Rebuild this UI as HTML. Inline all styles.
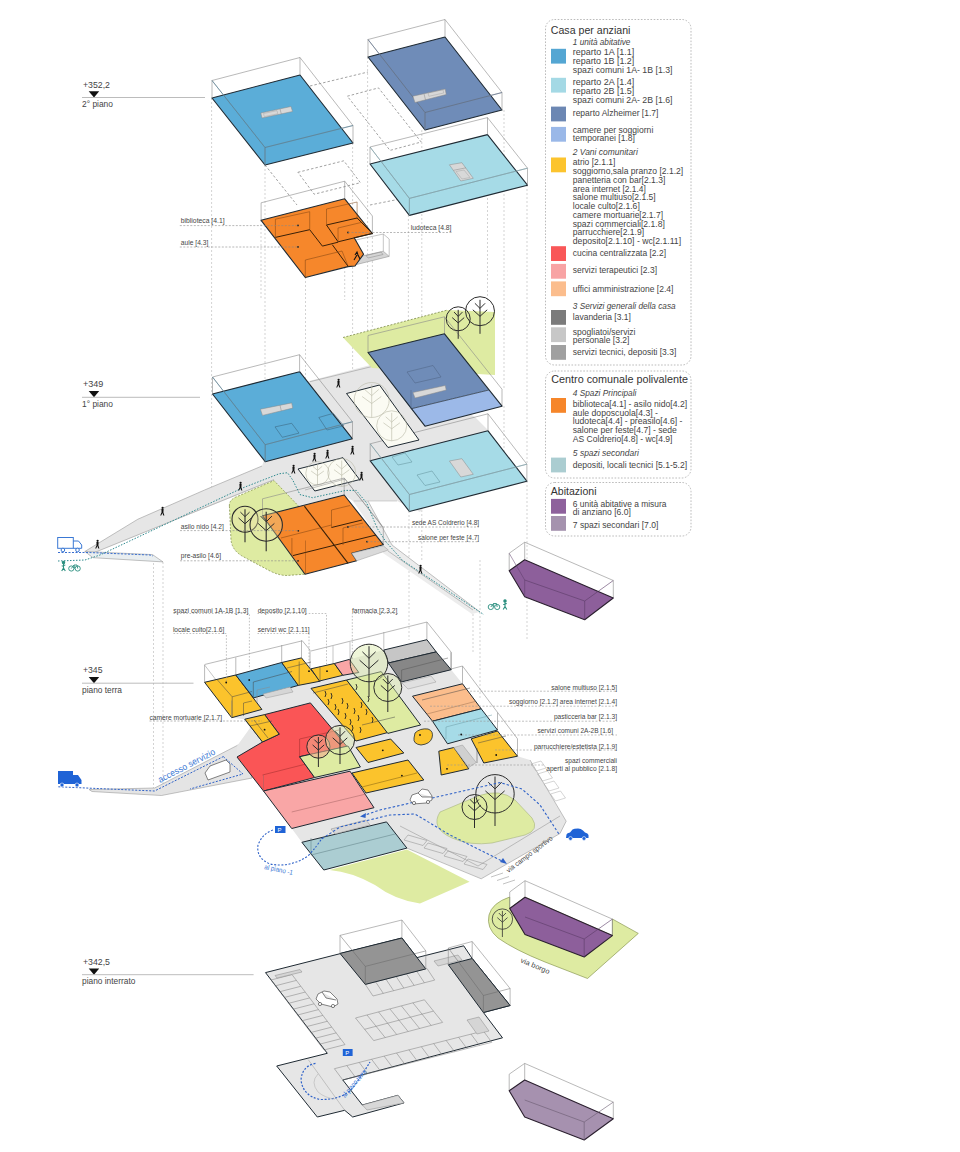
<!DOCTYPE html>
<html><head><meta charset="utf-8"><style>
html,body{margin:0;padding:0;background:#fff;}
svg{display:block;font-family:"Liberation Sans",sans-serif;}
</style></head><body>
<svg width="960" height="1152" viewBox="0 0 960 1152">
<rect width="960" height="1152" fill="#fff"/>
<polyline points="211.6,98.0 211.6,394.0" fill="none" stroke="#b5b5b5" stroke-width="0.6" stroke-dasharray="2,2" />
<polyline points="265.0,165.0 265.0,444.0" fill="none" stroke="#b5b5b5" stroke-width="0.6" stroke-dasharray="2,2" />
<polyline points="305.5,277.0 305.5,495.0" fill="none" stroke="#b5b5b5" stroke-width="0.6" stroke-dasharray="2,2" />
<polyline points="352.6,143.0 352.6,421.0" fill="none" stroke="#b5b5b5" stroke-width="0.6" stroke-dasharray="2,2" />
<polyline points="367.6,57.0 367.6,336.0" fill="none" stroke="#b5b5b5" stroke-width="0.6" stroke-dasharray="2,2" />
<polyline points="408.4,215.0 408.4,494.0" fill="none" stroke="#b5b5b5" stroke-width="0.6" stroke-dasharray="2,2" />
<polyline points="421.8,130.0 421.8,316.0" fill="none" stroke="#b5b5b5" stroke-width="0.6" stroke-dasharray="2,2" />
<polyline points="504.0,110.0 504.0,389.0" fill="none" stroke="#b5b5b5" stroke-width="0.6" stroke-dasharray="2,2" />
<polyline points="527.0,185.0 527.0,464.0" fill="none" stroke="#b5b5b5" stroke-width="0.6" stroke-dasharray="2,2" />
<polyline points="261.0,220.0 261.0,298.0" fill="none" stroke="#b5b5b5" stroke-width="0.6" stroke-dasharray="2,2" />
<polyline points="344.7,199.0 344.7,300.0" fill="none" stroke="#b5b5b5" stroke-width="0.6" stroke-dasharray="2,2" />
<polyline points="372.4,233.0 372.4,380.0" fill="none" stroke="#b5b5b5" stroke-width="0.6" stroke-dasharray="2,2" />
<polyline points="487.5,134.0 487.5,300.0" fill="none" stroke="#b5b5b5" stroke-width="0.6" stroke-dasharray="2,2" />
<polyline points="153.5,555.0 153.5,790.0" fill="none" stroke="#b5b5b5" stroke-width="0.6" stroke-dasharray="2,2" />
<polyline points="163.0,562.0 163.0,790.0" fill="none" stroke="#b5b5b5" stroke-width="0.6" stroke-dasharray="2,2" />
<polyline points="211.6,394.0 211.6,500.0" fill="none" stroke="#b5b5b5" stroke-width="0.6" stroke-dasharray="2,2" />
<polyline points="409.0,511.0 409.0,640.0" fill="none" stroke="#b5b5b5" stroke-width="0.6" stroke-dasharray="2,2" />
<polyline points="473.0,610.0 473.0,652.0" fill="none" stroke="#b5b5b5" stroke-width="0.6" stroke-dasharray="2,2" />
<polyline points="480.0,560.0 480.0,700.0" fill="none" stroke="#b5b5b5" stroke-width="0.6" stroke-dasharray="2,2" />
<polyline points="527.0,481.0 527.0,640.0" fill="none" stroke="#b5b5b5" stroke-width="0.6" stroke-dasharray="2,2" />
<polyline points="421.8,426.0 421.8,560.0" fill="none" stroke="#b5b5b5" stroke-width="0.6" stroke-dasharray="2,2" />
<polyline points="504.0,406.0 504.0,470.0" fill="none" stroke="#b5b5b5" stroke-width="0.6" stroke-dasharray="2,2" />
<text x="83.0" y="88.0" font-size="8.5" fill="#444" text-anchor="start" textLength="27.0" lengthAdjust="spacingAndGlyphs">+352,2</text>
<polygon points="88.7,91.2 99.2,91.2 94.0,97.5" fill="#111" stroke="none" stroke-width="1" stroke-linejoin="round" />
<polyline points="82.0,97.5 205.0,97.5" fill="none" stroke="#ababab" stroke-width="0.8" />
<text x="82.0" y="107.2" font-size="8.5" fill="#444" text-anchor="start" textLength="31.0" lengthAdjust="spacingAndGlyphs">2° piano</text>
<text x="83.0" y="386.7" font-size="8.5" fill="#444" text-anchor="start" textLength="20.4" lengthAdjust="spacingAndGlyphs">+349</text>
<polygon points="88.7,391.0 99.2,391.0 94.0,397.3" fill="#111" stroke="none" stroke-width="1" stroke-linejoin="round" />
<polyline points="82.0,397.3 200.0,397.3" fill="none" stroke="#ababab" stroke-width="0.8" />
<text x="82.0" y="406.7" font-size="8.5" fill="#444" text-anchor="start" textLength="31.0" lengthAdjust="spacingAndGlyphs">1° piano</text>
<text x="83.0" y="673.2" font-size="8.5" fill="#444" text-anchor="start" textLength="19.5" lengthAdjust="spacingAndGlyphs">+345</text>
<polygon points="88.7,676.9 99.2,676.9 94.0,683.2" fill="#111" stroke="none" stroke-width="1" stroke-linejoin="round" />
<polyline points="82.0,683.2 193.5,683.2" fill="none" stroke="#ababab" stroke-width="0.8" />
<text x="82.0" y="693.1" font-size="8.5" fill="#444" text-anchor="start" textLength="40.0" lengthAdjust="spacingAndGlyphs">piano terra</text>
<text x="83.0" y="964.6" font-size="8.5" fill="#444" text-anchor="start" textLength="27.0" lengthAdjust="spacingAndGlyphs">+342,5</text>
<polygon points="88.7,968.4 99.2,968.4 94.0,974.7" fill="#111" stroke="none" stroke-width="1" stroke-linejoin="round" />
<polyline points="82.0,974.7 253.6,974.7" fill="none" stroke="#ababab" stroke-width="0.8" />
<text x="82.0" y="983.9" font-size="8.5" fill="#444" text-anchor="start" textLength="53.4" lengthAdjust="spacingAndGlyphs">piano interrato</text>
<polyline points="297.9,172.3 343.8,160.8 360.4,182.7 314.2,194.2 297.9,172.3" fill="none" stroke="#8a8a8a" stroke-width="0.8" stroke-dasharray="2.5,2" />
<polyline points="347.3,96.2 378.5,87.9 421.2,142.0 390.0,150.4 347.3,96.2" fill="none" stroke="#8a8a8a" stroke-width="0.8" stroke-dasharray="2.5,2" />
<polyline points="310.0,86.0 368.0,72.0" fill="none" stroke="#8a8a8a" stroke-width="0.8" stroke-dasharray="2.5,2" />
<polyline points="265.0,165.0 297.0,205.0" fill="none" stroke="#8a8a8a" stroke-width="0.8" stroke-dasharray="2.5,2" />
<polyline points="370.0,205.0 420.0,195.0" fill="none" stroke="#8a8a8a" stroke-width="0.8" stroke-dasharray="2.5,2" />
<polygon points="212.0,98.0 300.0,75.0 353.0,143.0 265.0,165.0" fill="#5badd8" stroke="#1f2a33" stroke-width="1.1" stroke-linejoin="round" />
<polyline points="212.0,80.5 300.0,57.5 353.0,125.5 265.0,147.5 212.0,80.5" fill="none" stroke="#8a8a8a" stroke-width="0.6" />
<polyline points="212.0,98.0 212.0,80.5" fill="none" stroke="#8a8a8a" stroke-width="0.6" />
<polyline points="300.0,75.0 300.0,57.5" fill="none" stroke="#8a8a8a" stroke-width="0.6" />
<polyline points="353.0,143.0 353.0,125.5" fill="none" stroke="#8a8a8a" stroke-width="0.6" />
<polyline points="265.0,165.0 265.0,147.5" fill="none" stroke="#8a8a8a" stroke-width="0.6" />
<polyline points="212.0,80.5 265.0,147.5 353.0,125.5" fill="none" stroke="#4a7e99" stroke-width="0.6" />
<polyline points="265.0,147.5 265.0,165.0" fill="none" stroke="#4a7e99" stroke-width="0.6" />
<polygon points="260.8,113.0 291.0,106.5 292.5,111.5 262.0,118.0" fill="#d8d8d8" stroke="#888" stroke-width="0.5" stroke-linejoin="round" />
<polyline points="280.0,109.0 281.3,114.0" fill="none" stroke="#888" stroke-width="0.5" />
<polygon points="263.5,113.5 277.0,110.6 277.8,113.8 264.3,116.6" fill="none" stroke="#999" stroke-width="0.4" stroke-linejoin="round" />
<polygon points="368.0,57.0 445.0,37.0 502.0,110.0 425.0,130.0" fill="#6f8cb8" stroke="#1f2a33" stroke-width="1.1" stroke-linejoin="round" />
<polyline points="368.0,39.5 445.0,19.5 502.0,92.5 425.0,112.5 368.0,39.5" fill="none" stroke="#8a8a8a" stroke-width="0.6" />
<polyline points="368.0,57.0 368.0,39.5" fill="none" stroke="#8a8a8a" stroke-width="0.6" />
<polyline points="445.0,37.0 445.0,19.5" fill="none" stroke="#8a8a8a" stroke-width="0.6" />
<polyline points="502.0,110.0 502.0,92.5" fill="none" stroke="#8a8a8a" stroke-width="0.6" />
<polyline points="425.0,130.0 425.0,112.5" fill="none" stroke="#8a8a8a" stroke-width="0.6" />
<polyline points="368.0,39.5 425.0,112.5 502.0,92.5" fill="none" stroke="#52688a" stroke-width="0.6" />
<polyline points="425.0,112.5 425.0,130.0" fill="none" stroke="#52688a" stroke-width="0.6" />
<polygon points="412.9,96.2 445.2,89.0 446.2,94.5 415.0,102.5" fill="#d8d8d8" stroke="#888" stroke-width="0.5" stroke-linejoin="round" />
<polyline points="424.0,93.8 425.5,99.8" fill="none" stroke="#888" stroke-width="0.5" />
<polygon points="428.0,93.0 443.0,89.8 443.8,93.0 428.8,96.3" fill="none" stroke="#999" stroke-width="0.4" stroke-linejoin="round" />
<polygon points="370.0,164.0 487.5,134.6 527.5,185.2 409.4,215.4" fill="#a6dbe7" stroke="#1f2a33" stroke-width="1.1" stroke-linejoin="round" />
<polyline points="370.0,147.0 487.5,117.6 527.5,168.2 409.4,198.4 370.0,147.0" fill="none" stroke="#8a8a8a" stroke-width="0.6" />
<polyline points="370.0,164.0 370.0,147.0" fill="none" stroke="#8a8a8a" stroke-width="0.6" />
<polyline points="487.5,134.6 487.5,117.6" fill="none" stroke="#8a8a8a" stroke-width="0.6" />
<polyline points="527.5,185.2 527.5,168.2" fill="none" stroke="#8a8a8a" stroke-width="0.6" />
<polyline points="409.4,215.4 409.4,198.4" fill="none" stroke="#8a8a8a" stroke-width="0.6" />
<polyline points="370.0,147.0 409.4,198.4 527.5,168.2" fill="none" stroke="#7aa8b3" stroke-width="0.6" />
<polyline points="409.4,198.4 409.4,215.4" fill="none" stroke="#7aa8b3" stroke-width="0.6" />
<polygon points="449.4,164.8 461.9,162.7 473.3,178.3 460.8,181.0" fill="#d8d8d8" stroke="#888" stroke-width="0.5" stroke-linejoin="round" />
<polyline points="453.5,170.3 466.0,167.8" fill="none" stroke="#888" stroke-width="0.5" />
<polygon points="456.0,171.5 464.0,170.0 470.0,177.5 462.0,179.0" fill="none" stroke="#999" stroke-width="0.4" stroke-linejoin="round" />
<polyline points="261.1,220.3 261.1,202.8" fill="none" stroke="#8a8a8a" stroke-width="0.6" />
<polyline points="344.7,198.8 344.7,181.2" fill="none" stroke="#8a8a8a" stroke-width="0.6" />
<polyline points="372.4,233.5 372.4,216.0" fill="none" stroke="#8a8a8a" stroke-width="0.6" />
<polyline points="261.1,202.8 344.7,181.2 372.4,216.0" fill="none" stroke="#8a8a8a" stroke-width="0.6" />
<polygon points="351.2,258.5 383.3,251.2 389.2,256.4 357.1,264.4" fill="#d5d5d5" stroke="#888" stroke-width="0.5" stroke-linejoin="round" />
<polygon points="366.0,255.5 381.0,252.0 383.0,254.5 368.0,258.0" fill="none" stroke="#888" stroke-width="0.5" stroke-linejoin="round" />
<polyline points="383.3,251.2 383.3,234.0 389.2,239.0 389.2,256.4" fill="none" stroke="#8a8a8a" stroke-width="0.5" />
<polyline points="351.2,258.5 351.2,241.0 383.3,234.0" fill="none" stroke="#8a8a8a" stroke-width="0.5" />
<polygon points="261.1,220.3 344.7,198.8 372.4,233.5 354.2,237.8 363.6,254.2 355.0,266.0 348.0,266.6 305.3,277.5" fill="#f6872b" stroke="#1f2a33" stroke-width="1.1" stroke-linejoin="round" />
<polyline points="275.4,237.4 309.7,229.7 322.4,246.1 338.1,242.2" fill="none" stroke="#3a2008" stroke-width="1.0" />
<polyline points="332.3,244.7 348.3,266.6" fill="none" stroke="#3a2008" stroke-width="1.0" />
<polyline points="326.5,225.0 357.1,218.0 372.4,233.5 338.1,241.8 326.5,225.0" fill="none" stroke="#3a2008" stroke-width="1.0" />
<polyline points="275.4,219.2 275.4,237.4" fill="none" stroke="#7a4010" stroke-width="0.5" />
<polyline points="275.4,219.2 309.7,211.7 309.7,229.7" fill="none" stroke="#7a4010" stroke-width="0.5" />
<polyline points="326.5,209.0 357.1,202.0 357.1,218.0" fill="none" stroke="#7a4010" stroke-width="0.5" />
<polyline points="326.5,209.0 326.5,225.0" fill="none" stroke="#7a4010" stroke-width="0.5" />
<polyline points="305.3,260.0 305.3,277.5" fill="none" stroke="#7a4010" stroke-width="0.5" />
<polyline points="305.3,260.0 342.0,251.0 348.3,266.6" fill="none" stroke="#7a4010" stroke-width="0.5" />
<polyline points="338.0,228.0 338.1,241.8" fill="none" stroke="#7a4010" stroke-width="0.5" />
<polyline points="338.0,228.0 361.0,222.5" fill="none" stroke="#7a4010" stroke-width="0.5" />
<path d="M355,255 L357,252 L358,255 L360,259 M357,255 L354,260" fill="none" stroke="#111" stroke-width="1.1"/>
<circle cx="298.0" cy="225.4" r="0.9" fill="#222" stroke="none" stroke-width="0"/>
<circle cx="298.0" cy="246.9" r="0.9" fill="#222" stroke="none" stroke-width="0"/>
<circle cx="348.0" cy="232.5" r="0.9" fill="#222" stroke="none" stroke-width="0"/>
<text x="180.8" y="222.8" font-size="7" fill="#444" text-anchor="start" textLength="43.8" lengthAdjust="spacingAndGlyphs">biblioteca [4.1]</text>
<polyline points="179.8,225.6 298.0,225.6" fill="none" stroke="#888" stroke-width="0.6" stroke-dasharray="2,1.5" />
<text x="180.8" y="244.7" font-size="7" fill="#444" text-anchor="start" textLength="27.5" lengthAdjust="spacingAndGlyphs">aule [4.3]</text>
<polyline points="179.8,247.0 298.0,247.0" fill="none" stroke="#888" stroke-width="0.6" stroke-dasharray="2,1.5" />
<text x="410.8" y="230.4" font-size="7" fill="#444" text-anchor="start" textLength="40.7" lengthAdjust="spacingAndGlyphs">ludoteca [4.8]</text>
<polyline points="348.0,232.5 451.5,232.5" fill="none" stroke="#888" stroke-width="0.6" stroke-dasharray="2,1.5" />
<rect x="545.5" y="19.5" width="145.5" height="345.5" rx="9" ry="9" fill="none" stroke="#aaa" stroke-width="0.8" stroke-dasharray="1.6,1.6"/>
<rect x="545.5" y="371" width="145.5" height="107" rx="9" ry="9" fill="none" stroke="#aaa" stroke-width="0.8" stroke-dasharray="1.6,1.6"/>
<rect x="545.5" y="482.5" width="145.5" height="53.5" rx="9" ry="9" fill="none" stroke="#aaa" stroke-width="0.8" stroke-dasharray="1.6,1.6"/>
<text x="550.8" y="33.6" font-size="11.5" fill="#333" text-anchor="start" textLength="79.6" lengthAdjust="spacingAndGlyphs">Casa per anziani</text>
<text x="572.8" y="45.0" font-size="9" fill="#444" text-anchor="start" font-style="italic" textLength="57.6" lengthAdjust="spacingAndGlyphs">1 unità abitative</text>
<rect x="551" y="48.8" width="15" height="14.8" fill="#54a6d3"/>
<text x="572.8" y="55.2" font-size="9" fill="#444" text-anchor="start" textLength="61.5" lengthAdjust="spacingAndGlyphs">reparto 1A  [1.1]</text>
<text x="572.8" y="64.2" font-size="9" fill="#444" text-anchor="start" textLength="61.5" lengthAdjust="spacingAndGlyphs">reparto 1B  [1.2]</text>
<text x="572.8" y="72.5" font-size="9" fill="#444" text-anchor="start" textLength="99.7" lengthAdjust="spacingAndGlyphs">spazi comuni 1A- 1B  [1.3]</text>
<rect x="551" y="77.8" width="15" height="14.8" fill="#a4d9e5"/>
<text x="572.8" y="85.4" font-size="9" fill="#444" text-anchor="start" textLength="61.5" lengthAdjust="spacingAndGlyphs">reparto 2A  [1.4]</text>
<text x="572.8" y="94.0" font-size="9" fill="#444" text-anchor="start" textLength="61.5" lengthAdjust="spacingAndGlyphs">reparto 2B  [1.5]</text>
<text x="572.8" y="102.6" font-size="9" fill="#444" text-anchor="start" textLength="99.7" lengthAdjust="spacingAndGlyphs">spazi comuni 2A- 2B  [1.6]</text>
<rect x="551" y="106.6" width="15" height="14.8" fill="#6c87b3"/>
<text x="572.8" y="116.2" font-size="9" fill="#444" text-anchor="start" textLength="85.6" lengthAdjust="spacingAndGlyphs">reparto Alzheimer [1.7]</text>
<rect x="551" y="126.9" width="15" height="14.8" fill="#9ab8e8"/>
<text x="572.8" y="132.7" font-size="9" fill="#444" text-anchor="start" textLength="80.5" lengthAdjust="spacingAndGlyphs">camere per soggiorni</text>
<text x="572.8" y="141.2" font-size="9" fill="#444" text-anchor="start" textLength="62.2" lengthAdjust="spacingAndGlyphs">temporanei [1.8]</text>
<text x="572.8" y="154.5" font-size="9" fill="#444" text-anchor="start" font-style="italic" textLength="65.0" lengthAdjust="spacingAndGlyphs">2 Vani comunitari</text>
<rect x="551" y="157.5" width="15" height="14.8" fill="#fcc42e"/>
<text x="572.8" y="165.2" font-size="9" fill="#444" text-anchor="start" textLength="42.6" lengthAdjust="spacingAndGlyphs">atrio [2.1.1]</text>
<text x="572.8" y="174.2" font-size="9" fill="#444" text-anchor="start" textLength="110.4" lengthAdjust="spacingAndGlyphs">soggiorno,sala pranzo [2.1.2]</text>
<text x="572.8" y="183.2" font-size="9" fill="#444" text-anchor="start" textLength="92.5" lengthAdjust="spacingAndGlyphs">panetteria con bar[2.1.3]</text>
<text x="572.8" y="191.7" font-size="9" fill="#444" text-anchor="start" textLength="73.1" lengthAdjust="spacingAndGlyphs">area internet [2.1.4]</text>
<text x="572.8" y="200.4" font-size="9" fill="#444" text-anchor="start" textLength="82.9" lengthAdjust="spacingAndGlyphs">salone multiuso[2.1.5]</text>
<text x="572.8" y="209.0" font-size="9" fill="#444" text-anchor="start" textLength="67.0" lengthAdjust="spacingAndGlyphs">locale culto[2.1.6]</text>
<text x="572.8" y="218.1" font-size="9" fill="#444" text-anchor="start" textLength="90.2" lengthAdjust="spacingAndGlyphs">camere mortuarie[2.1.7]</text>
<text x="572.8" y="226.5" font-size="9" fill="#444" text-anchor="start" textLength="92.0" lengthAdjust="spacingAndGlyphs">spazi commerciali[2.1.8]</text>
<text x="572.8" y="235.1" font-size="9" fill="#444" text-anchor="start" textLength="71.3" lengthAdjust="spacingAndGlyphs">parrucchiere[2.1.9]</text>
<text x="572.8" y="243.7" font-size="9" fill="#444" text-anchor="start" textLength="108.3" lengthAdjust="spacingAndGlyphs">deposito[2.1.10] - wc[2.1.11]</text>
<rect x="551" y="246.2" width="15" height="14.8" fill="#f95758"/>
<text x="572.8" y="256.2" font-size="9" fill="#444" text-anchor="start" textLength="93.2" lengthAdjust="spacingAndGlyphs">cucina centralizzata [2.2]</text>
<rect x="551" y="263.9" width="15" height="14.8" fill="#f8a3a4"/>
<text x="572.8" y="272.9" font-size="9" fill="#444" text-anchor="start" textLength="84.2" lengthAdjust="spacingAndGlyphs">servizi terapeutici [2.3]</text>
<rect x="551" y="281.4" width="15" height="14.8" fill="#fbbd8d"/>
<text x="572.8" y="291.5" font-size="9" fill="#444" text-anchor="start" textLength="100.6" lengthAdjust="spacingAndGlyphs">uffici amministrazione [2.4]</text>
<text x="572.8" y="308.7" font-size="9" fill="#444" text-anchor="start" font-style="italic" textLength="102.8" lengthAdjust="spacingAndGlyphs">3 Servizi generali della casa</text>
<rect x="551" y="310" width="15" height="14.8" fill="#7b7b7b"/>
<text x="572.8" y="320.2" font-size="9" fill="#444" text-anchor="start" textLength="58.1" lengthAdjust="spacingAndGlyphs">lavanderia [3.1]</text>
<rect x="551" y="327.3" width="15" height="14.8" fill="#c7c7c7"/>
<text x="572.8" y="334.5" font-size="9" fill="#444" text-anchor="start" textLength="62.7" lengthAdjust="spacingAndGlyphs">spogliatoi/servizi</text>
<text x="572.8" y="343.0" font-size="9" fill="#444" text-anchor="start" textLength="56.7" lengthAdjust="spacingAndGlyphs">personale [3.2]</text>
<rect x="551" y="345" width="15" height="14.8" fill="#a0a0a0"/>
<text x="572.8" y="354.6" font-size="9" fill="#444" text-anchor="start" textLength="103.5" lengthAdjust="spacingAndGlyphs">servizi tecnici, depositi [3.3]</text>
<text x="551.3" y="382.6" font-size="11.5" fill="#333" text-anchor="start" textLength="136.7" lengthAdjust="spacingAndGlyphs">Centro comunale polivalente</text>
<text x="572.8" y="395.9" font-size="9" fill="#444" text-anchor="start" font-style="italic" textLength="63.6" lengthAdjust="spacingAndGlyphs">4 Spazi Principali</text>
<rect x="551" y="398" width="15" height="14.8" fill="#f6862a"/>
<text x="572.8" y="407.0" font-size="9" fill="#444" text-anchor="start" textLength="114.3" lengthAdjust="spacingAndGlyphs">biblioteca[4.1] - asilo nido[4.2]</text>
<text x="572.8" y="415.6" font-size="9" fill="#444" text-anchor="start" textLength="85.1" lengthAdjust="spacingAndGlyphs">aule doposcuola[4.3] -</text>
<text x="572.8" y="424.2" font-size="9" fill="#444" text-anchor="start" textLength="109.7" lengthAdjust="spacingAndGlyphs">ludoteca[4.4] - preasilo[4.6] -</text>
<text x="572.8" y="432.8" font-size="9" fill="#444" text-anchor="start" textLength="104.0" lengthAdjust="spacingAndGlyphs">salone per feste[4.7] - sede</text>
<text x="572.8" y="441.8" font-size="9" fill="#444" text-anchor="start" textLength="99.7" lengthAdjust="spacingAndGlyphs">AS Coldrerio[4.8] - wc[4.9]</text>
<text x="572.8" y="456.0" font-size="9" fill="#444" text-anchor="start" font-style="italic" textLength="66.2" lengthAdjust="spacingAndGlyphs">5 spazi secondari</text>
<rect x="551" y="457.6" width="15" height="14.8" fill="#abcdd1"/>
<text x="572.8" y="468.0" font-size="9" fill="#444" text-anchor="start" textLength="114.3" lengthAdjust="spacingAndGlyphs">depositi, locali tecnici [5.1-5.2]</text>
<text x="550.8" y="494.8" font-size="11.5" fill="#333" text-anchor="start" textLength="45.7" lengthAdjust="spacingAndGlyphs">Abitazioni</text>
<rect x="551" y="498.9" width="15" height="14.8" fill="#8e619c"/>
<text x="572.8" y="506.7" font-size="9" fill="#444" text-anchor="start" textLength="93.7" lengthAdjust="spacingAndGlyphs">6 unità abitative a misura</text>
<text x="572.8" y="515.3" font-size="9" fill="#444" text-anchor="start" textLength="58.1" lengthAdjust="spacingAndGlyphs">di anziano [6.0]</text>
<rect x="551" y="516" width="15" height="14.8" fill="#a592ae"/>
<text x="572.8" y="528.2" font-size="9" fill="#444" text-anchor="start" textLength="85.6" lengthAdjust="spacingAndGlyphs">7 spazi secondari [7.0]</text>
<polygon points="84.8,551.5 137.9,519.2 204.6,490.0 262.0,466.0 290.0,386.0 382.0,362.0 475.0,417.0 490.0,432.0 420.0,512.0 397.0,501.0 353.0,501.0 344.0,495.0 298.3,505.8 274.0,480.6 92.0,553.5" fill="#e6e6e6" stroke="none" stroke-width="1" stroke-linejoin="round" />
<polygon points="353.0,501.0 368.0,501.0 392.0,545.0 480.0,612.0 472.0,614.0 383.0,553.0 383.3,544.7" fill="#ececec" stroke="none" stroke-width="1" stroke-linejoin="round" />
<polyline points="368.0,501.0 392.0,545.0" fill="none" stroke="#999" stroke-width="0.6" />
<polyline points="84.8,551.5 137.9,519.2 204.6,490.0 262.0,466.0" fill="none" stroke="#999" stroke-width="0.6" />
<polyline points="92.0,553.5 274.0,479.6" fill="none" stroke="#999" stroke-width="0.6" />
<polyline points="310.0,381.7 375.0,365.8" fill="none" stroke="#999" stroke-width="0.6" />
<polyline points="388.0,551.0 473.0,610.0" fill="none" stroke="#999" stroke-width="0.6" />
<polyline points="392.0,545.0 480.0,612.0" fill="none" stroke="#999" stroke-width="0.6" />
<polyline points="353.7,501.0 397.0,501.0" fill="none" stroke="#aaa" stroke-width="0.5" />
<polygon points="84.8,551.5 152.5,554.6 163.0,561.9 93.0,557.7" fill="#e9eef0" stroke="#999" stroke-width="0.6" stroke-linejoin="round" />
<polygon points="343.0,337.5 447.5,310.0 495.0,312.0 495.0,375.0 372.0,368.0" fill="#deeba2" stroke="none" stroke-width="1" stroke-linejoin="round" />
<polyline points="343.0,337.5 447.5,310.0" fill="none" stroke="#6b7a3a" stroke-width="0.7" stroke-dasharray="2,1.5" />
<path d="M229.4,506 Q229,500 236,497 L274,480.6 L298.3,505.8 L305,574.2 L288,575.4 Q280,576 270,571 L242,556 Q232,550 231,540 Z" fill="#deeba2" stroke="#7a8a40" stroke-width="0.7" stroke-dasharray="2,1.5"/>
<polyline points="368.0,352.5 368.0,335.5" fill="none" stroke="#8a8a8a" stroke-width="0.6" />
<polyline points="444.5,333.8 444.5,316.8" fill="none" stroke="#8a8a8a" stroke-width="0.6" />
<polyline points="502.0,406.2 502.0,389.2" fill="none" stroke="#8a8a8a" stroke-width="0.6" />
<polyline points="368.0,335.5 444.5,316.8 502.0,389.2" fill="none" stroke="#8a8a8a" stroke-width="0.6" />
<polygon points="368.0,352.5 444.5,333.8 488.8,390.0 411.0,408.8" fill="#6f8cb8" stroke="none" stroke-width="1" stroke-linejoin="round" />
<polygon points="411.0,408.8 488.8,390.0 502.0,406.2 425.0,426.2" fill="#9cb9e8" stroke="none" stroke-width="1" stroke-linejoin="round" />
<polygon points="368.0,352.5 444.5,333.8 502.0,406.2 425.0,426.2" fill="none" stroke="#1f2a33" stroke-width="1.1" stroke-linejoin="round" />
<polyline points="411.0,408.8 488.8,390.0" fill="none" stroke="#1f2a33" stroke-width="0.7" />
<polyline points="411.0,390.0 411.0,408.8" fill="none" stroke="#52688a" stroke-width="0.6" />
<polygon points="407.0,372.0 433.0,365.5 441.0,377.0 415.0,383.0" fill="none" stroke="#52688a" stroke-width="0.6" stroke-linejoin="round" />
<polygon points="412.9,392.5 445.2,385.5 446.2,390.0 415.0,398.0" fill="#d8d8d8" stroke="#888" stroke-width="0.5" stroke-linejoin="round" />
<polygon points="212.5,394.0 299.6,371.7 352.5,438.8 265.2,461.7" fill="#5badd8" stroke="#1f2a33" stroke-width="1.1" stroke-linejoin="round" />
<polyline points="212.5,377.0 299.6,354.7 352.5,421.8 265.2,444.7 212.5,377.0" fill="none" stroke="#8a8a8a" stroke-width="0.6" />
<polyline points="212.5,394.0 212.5,377.0" fill="none" stroke="#8a8a8a" stroke-width="0.6" />
<polyline points="299.6,371.7 299.6,354.7" fill="none" stroke="#8a8a8a" stroke-width="0.6" />
<polyline points="352.5,438.8 352.5,421.8" fill="none" stroke="#8a8a8a" stroke-width="0.6" />
<polyline points="265.2,461.7 265.2,444.7" fill="none" stroke="#8a8a8a" stroke-width="0.6" />
<polyline points="212.5,377.0 265.2,444.7 352.5,421.7" fill="none" stroke="#4a7e99" stroke-width="0.6" />
<polyline points="265.2,444.7 265.2,461.7" fill="none" stroke="#4a7e99" stroke-width="0.6" />
<polygon points="260.4,409.2 291.7,402.9 292.7,408.1 262.5,415.4" fill="#d8d8d8" stroke="#888" stroke-width="0.5" stroke-linejoin="round" />
<polyline points="280.0,405.2 281.3,410.8" fill="none" stroke="#888" stroke-width="0.5" />
<polygon points="275.0,426.9 291.7,423.3 299.0,433.1 282.3,437.3" fill="none" stroke="#3c6a85" stroke-width="0.6" stroke-linejoin="round" />
<polygon points="318.8,417.5 333.3,413.3 343.8,425.8 327.0,430.0" fill="none" stroke="#3c6a85" stroke-width="0.6" stroke-linejoin="round" />
<polygon points="370.2,460.8 488.0,430.8 526.9,481.2 409.4,511.5" fill="#a6dbe7" stroke="#1f2a33" stroke-width="1.1" stroke-linejoin="round" />
<polyline points="370.2,443.8 488.0,413.8 526.9,464.2 409.4,494.5 370.2,443.8" fill="none" stroke="#8a8a8a" stroke-width="0.6" />
<polyline points="370.2,460.8 370.2,443.8" fill="none" stroke="#8a8a8a" stroke-width="0.6" />
<polyline points="488.0,430.8 488.0,413.8" fill="none" stroke="#8a8a8a" stroke-width="0.6" />
<polyline points="526.9,481.2 526.9,464.2" fill="none" stroke="#8a8a8a" stroke-width="0.6" />
<polyline points="409.4,511.5 409.4,494.5" fill="none" stroke="#8a8a8a" stroke-width="0.6" />
<polyline points="370.2,443.8 409.4,494.5 526.9,464.2" fill="none" stroke="#7aa8b3" stroke-width="0.6" />
<polyline points="409.4,494.5 409.4,511.5" fill="none" stroke="#7aa8b3" stroke-width="0.6" />
<polygon points="449.4,461.0 461.9,458.7 473.3,474.3 460.8,477.0" fill="#d8d8d8" stroke="#888" stroke-width="0.5" stroke-linejoin="round" />
<polygon points="417.0,475.0 432.0,471.0 440.0,482.0 425.0,485.5" fill="none" stroke="#6a9aa5" stroke-width="0.6" stroke-linejoin="round" />
<polygon points="392.0,457.0 405.0,453.0 412.0,462.0 398.0,465.0" fill="none" stroke="#6a9aa5" stroke-width="0.6" stroke-linejoin="round" />
<polygon points="346.5,393.5 379.5,385.0 419.0,440.0 388.0,447.5" fill="#fbfbf3" stroke="#1f2a33" stroke-width="1.0" stroke-linejoin="round" />
<polygon points="298.0,469.0 343.0,457.7 359.6,479.6 314.8,491.0" fill="#fbfbf3" stroke="#1f2a33" stroke-width="1.0" stroke-linejoin="round" />
<circle cx="371.7" cy="400.0" r="17.5" fill="none" stroke="#b9b9a6" stroke-width="0.6"/>
<polyline points="371.7,384.5 371.7,417.5" fill="none" stroke="#b9b9a6" stroke-width="0.6" />
<polyline points="362.1,396.5 371.7,403.5 381.3,396.5" fill="none" stroke="#b9b9a6" stroke-width="0.6" />
<polyline points="364.7,389.5 371.7,395.6 378.7,389.5" fill="none" stroke="#b9b9a6" stroke-width="0.6" />
<circle cx="391.7" cy="425.8" r="15.0" fill="none" stroke="#b9b9a6" stroke-width="0.6"/>
<polyline points="391.7,412.8 391.7,440.8" fill="none" stroke="#b9b9a6" stroke-width="0.6" />
<polyline points="383.4,422.8 391.7,428.8 399.9,422.8" fill="none" stroke="#b9b9a6" stroke-width="0.6" />
<polyline points="385.7,416.8 391.7,422.1 397.7,416.8" fill="none" stroke="#b9b9a6" stroke-width="0.6" />
<circle cx="317.5" cy="473.3" r="11.7" fill="none" stroke="#b9b9a6" stroke-width="0.6"/>
<polyline points="317.5,463.6 317.5,485.0" fill="none" stroke="#b9b9a6" stroke-width="0.6" />
<polyline points="311.1,471.0 317.5,475.6 323.9,471.0" fill="none" stroke="#b9b9a6" stroke-width="0.6" />
<polyline points="312.8,466.3 317.5,470.4 322.2,466.3" fill="none" stroke="#b9b9a6" stroke-width="0.6" />
<circle cx="341.7" cy="472.5" r="14.0" fill="none" stroke="#b9b9a6" stroke-width="0.6"/>
<polyline points="341.7,460.5 341.7,486.5" fill="none" stroke="#b9b9a6" stroke-width="0.6" />
<polyline points="334.0,469.7 341.7,475.3 349.4,469.7" fill="none" stroke="#b9b9a6" stroke-width="0.6" />
<polyline points="336.1,464.1 341.7,469.0 347.3,464.1" fill="none" stroke="#b9b9a6" stroke-width="0.6" />
<polyline points="262.5,515.8 262.5,498.8" fill="none" stroke="#8a8a8a" stroke-width="0.6" />
<polyline points="344.2,495.0 344.2,478.0" fill="none" stroke="#8a8a8a" stroke-width="0.6" />
<polyline points="383.3,544.7 383.3,527.7" fill="none" stroke="#8a8a8a" stroke-width="0.6" />
<polyline points="262.5,498.8 344.2,478.0 383.3,527.7" fill="none" stroke="#8a8a8a" stroke-width="0.6" />
<polygon points="262.5,515.8 344.2,495.0 383.3,544.7 351.7,553.3 356.7,560.8 305.0,574.2" fill="#f6872b" stroke="#1f2a33" stroke-width="1.1" stroke-linejoin="round" />
<polygon points="351.7,553.3 383.3,545.8 388.3,550.0 356.7,560.8" fill="#dadada" stroke="#999" stroke-width="0.5" stroke-linejoin="round" />
<polyline points="305.0,490.0 345.0,479.0 383.0,527.0" fill="none" stroke="#8a8a8a" stroke-width="0.5" />
<polyline points="304.4,506.2 348.1,563.3" fill="none" stroke="#3a2008" stroke-width="1.1" />
<polyline points="292.9,555.6 334.6,545.2 376.0,535.0" fill="none" stroke="#3a2008" stroke-width="1.0" />
<polyline points="331.5,527.5 362.0,520.0" fill="none" stroke="#3a2008" stroke-width="1.0" />
<polyline points="281.0,538.0 331.5,525.0" fill="none" stroke="#7a4010" stroke-width="0.5" />
<polyline points="291.9,538.0 291.9,555.6" fill="none" stroke="#7a4010" stroke-width="0.5" />
<polyline points="331.5,510.0 331.5,527.5" fill="none" stroke="#7a4010" stroke-width="0.5" />
<polyline points="331.5,510.0 350.0,505.5" fill="none" stroke="#7a4010" stroke-width="0.5" />
<polyline points="343.0,545.0 343.0,528.0 363.0,523.0" fill="none" stroke="#7a4010" stroke-width="0.5" />
<polyline points="305.5,540.5 305.5,574.0" fill="none" stroke="#7a4010" stroke-width="0.4" />
<circle cx="298.3" cy="530.8" r="0.9" fill="#222" stroke="none" stroke-width="0"/>
<circle cx="298.0" cy="560.8" r="0.9" fill="#222" stroke="none" stroke-width="0"/>
<circle cx="348.0" cy="527.0" r="0.9" fill="#222" stroke="none" stroke-width="0"/>
<circle cx="367.0" cy="541.7" r="0.9" fill="#222" stroke="none" stroke-width="0"/>
<circle cx="245.0" cy="519.2" r="13.0" fill="rgba(235,225,170,0.35)" stroke="#2c2c2c" stroke-width="1.1"/>
<polyline points="245.0,509.2 245.0,542.2" fill="none" stroke="#2c2c2c" stroke-width="1.1" />
<polyline points="238.5,517.9 245.0,523.8 251.5,517.9" fill="none" stroke="#2c2c2c" stroke-width="1.0" />
<polyline points="240.4,512.1 245.0,516.6 249.6,512.1" fill="none" stroke="#2c2c2c" stroke-width="1.0" />
<circle cx="266.2" cy="525.0" r="16.2" fill="rgba(235,225,170,0.35)" stroke="#2c2c2c" stroke-width="1.1"/>
<polyline points="266.2,511.8 266.2,551.2" fill="none" stroke="#2c2c2c" stroke-width="1.1" />
<polyline points="258.1,523.4 266.2,530.7 274.4,523.4" fill="none" stroke="#2c2c2c" stroke-width="1.0" />
<polyline points="260.6,516.1 266.2,521.8 271.9,516.1" fill="none" stroke="#2c2c2c" stroke-width="1.0" />
<circle cx="458.2" cy="318.8" r="12.0" fill="none" stroke="#2c2c2c" stroke-width="1.0"/>
<polyline points="458.2,309.8 458.2,338.8" fill="none" stroke="#2c2c2c" stroke-width="1.0" />
<polyline points="452.2,317.6 458.2,322.9 464.2,317.6" fill="none" stroke="#2c2c2c" stroke-width="1.0" />
<polyline points="454.1,312.1 458.2,316.4 462.4,312.1" fill="none" stroke="#2c2c2c" stroke-width="1.0" />
<circle cx="480.0" cy="311.2" r="14.5" fill="none" stroke="#2c2c2c" stroke-width="1.0"/>
<polyline points="480.0,299.8 480.0,333.8" fill="none" stroke="#2c2c2c" stroke-width="1.0" />
<polyline points="472.8,309.8 480.0,316.3 487.2,309.8" fill="none" stroke="#2c2c2c" stroke-width="1.0" />
<polyline points="474.9,303.3 480.0,308.4 485.1,303.3" fill="none" stroke="#2c2c2c" stroke-width="1.0" />
<polyline points="58.0,561.0 85.0,560.0 100.0,555.0 241.7,488.3 279.0,473.8 287.5,472.7 292.7,480.0 300.0,494.6 312.5,497.7 345.8,490.4 356.2,490.4 366.7,503.0 377.0,528.0 385.8,541.7 402.5,560.4 483.8,614.6" fill="none" stroke="#2f8a8f" stroke-width="1.0" stroke-dasharray="1.5,1.5" />
<polyline points="58.0,552.5 88.0,552.5 150.0,555.0 153.0,556.0" fill="none" stroke="#3a6fd0" stroke-width="1.0" stroke-dasharray="2,1.5" />
<text x="180.8" y="529.0" font-size="7" fill="#444" text-anchor="start" textLength="43.0" lengthAdjust="spacingAndGlyphs">asilo nido [4.2]</text>
<polyline points="180.0,530.6 298.0,530.6" fill="none" stroke="#888" stroke-width="0.6" stroke-dasharray="2,1.5" />
<text x="180.8" y="557.7" font-size="7" fill="#444" text-anchor="start" textLength="40.2" lengthAdjust="spacingAndGlyphs">pre-asilo [4.6]</text>
<polyline points="180.0,560.8 298.0,560.8" fill="none" stroke="#888" stroke-width="0.6" stroke-dasharray="2,1.5" />
<text x="479.2" y="525.0" font-size="7" fill="#444" text-anchor="end" textLength="67.3" lengthAdjust="spacingAndGlyphs">sede AS Coldrerio [4.8]</text>
<polyline points="348.0,527.0 479.0,527.0" fill="none" stroke="#888" stroke-width="0.6" stroke-dasharray="2,1.5" />
<text x="479.2" y="539.5" font-size="7" fill="#444" text-anchor="end" textLength="61.2" lengthAdjust="spacingAndGlyphs">salone per feste [4.7]</text>
<polyline points="367.0,541.7 479.0,541.7" fill="none" stroke="#888" stroke-width="0.6" stroke-dasharray="2,1.5" />
<polyline points="509.2,570.8 509.2,553.3" fill="none" stroke="#8a8a8a" stroke-width="0.6" />
<polyline points="524.7,559.7 524.7,542.2" fill="none" stroke="#8a8a8a" stroke-width="0.6" />
<polyline points="613.3,598.0 613.3,580.5" fill="none" stroke="#8a8a8a" stroke-width="0.6" />
<polyline points="509.2,553.3 524.7,542.2 613.3,580.5" fill="none" stroke="#8a8a8a" stroke-width="0.6" />
<polygon points="509.2,570.8 524.7,559.7 613.3,598.0 584.7,619.7 524.7,596.7" fill="#8d5f9b" stroke="#2a1f2e" stroke-width="1.1" stroke-linejoin="round" />
<polyline points="524.7,580.0 584.7,601.0 613.3,580.5" fill="none" stroke="#5a3a66" stroke-width="0.6" />
<polyline points="584.7,601.0 584.7,619.7" fill="none" stroke="#5a3a66" stroke-width="0.6" />
<polyline points="509.2,553.3 524.7,580.0 524.7,596.7" fill="none" stroke="#5a3a66" stroke-width="0.5" />
<polygon points="89.0,789.5 154.6,788.0 240.0,744.0 252.0,740.0 252.0,778.0 161.5,795.5 92.0,791.5" fill="#e4e4e4" stroke="#9a9a9a" stroke-width="0.6" stroke-linejoin="round" />
<polygon points="204.6,682.3 231.7,717.7 244.8,719.2 250.0,728.0 237.0,746.0 237.0,757.0 263.5,791.0 291.7,828.5 301.9,842.3 323.8,870.0 406.9,848.1 481.2,878.8 560.0,833.5 566.2,821.2 530.0,760.0 517.5,756.2 497.5,730.0 481.2,708.8 462.5,683.8 451.2,669.7 426.9,639.7 383.8,650.0 349.4,659.4 311.0,668.8 301.5,657.9" fill="#e6e6e6" stroke="none" stroke-width="1" stroke-linejoin="round" />
<polyline points="406.9,848.1 481.2,878.8 560.0,833.5 566.2,821.2 530.0,760.0" fill="none" stroke="#9a9a9a" stroke-width="0.6" />
<path d="M329.6,870 L406.9,849.6 L469.6,881.7 L420,903.5 Q395,900 375,885 Q352,872 329.6,870 Z" fill="#deeba2"/>
<path d="M440,812 L478,796 Q500,788 515,800 L532,818 Q540,830 525,835 L492,843 Q470,846 452,838 Q430,828 440,812 Z" fill="#deeba2" stroke="#9aa870" stroke-width="0.5"/>
<polygon points="408.0,835.0 427.0,840.5 423.0,845.5 404.0,840.0" fill="none" stroke="#999" stroke-width="0.6" stroke-linejoin="round" />
<polygon points="428.0,843.0 447.0,848.5 443.0,853.5 424.0,848.0" fill="none" stroke="#999" stroke-width="0.6" stroke-linejoin="round" />
<polygon points="448.0,851.0 467.0,856.5 463.0,861.5 444.0,856.0" fill="none" stroke="#999" stroke-width="0.6" stroke-linejoin="round" />
<polygon points="468.0,859.0 487.0,864.5 483.0,869.5 464.0,864.0" fill="none" stroke="#999" stroke-width="0.6" stroke-linejoin="round" />
<polyline points="400.0,826.0 478.0,866.0 560.0,816.0" fill="none" stroke="#9a9a9a" stroke-width="0.6" />
<polygon points="531.0,764.0 541.0,761.0 546.0,768.0 536.0,771.0" fill="none" stroke="#aaa" stroke-width="0.5" stroke-linejoin="round" />
<polygon points="537.5,774.0 547.5,771.0 552.5,778.0 542.5,781.0" fill="none" stroke="#aaa" stroke-width="0.5" stroke-linejoin="round" />
<polygon points="544.0,784.0 554.0,781.0 559.0,788.0 549.0,791.0" fill="none" stroke="#aaa" stroke-width="0.5" stroke-linejoin="round" />
<polygon points="550.5,794.0 560.5,791.0 565.5,798.0 555.5,801.0" fill="none" stroke="#aaa" stroke-width="0.5" stroke-linejoin="round" />
<polyline points="491.0,877.0 503.0,873.0" fill="none" stroke="#999" stroke-width="0.6" />
<polyline points="497.0,880.5 509.0,876.5" fill="none" stroke="#999" stroke-width="0.6" />
<polyline points="503.0,884.0 515.0,880.0" fill="none" stroke="#999" stroke-width="0.6" />
<polyline points="204.6,664.5 302.3,640.8 310.0,650.0 310.0,668.0" fill="none" stroke="#8a8a8a" stroke-width="0.6" />
<polyline points="311.0,651.0 427.0,622.0 451.0,652.0 451.0,669.7" fill="none" stroke="#8a8a8a" stroke-width="0.6" />
<polyline points="333.0,646.0 333.0,663.5" fill="none" stroke="#8a8a8a" stroke-width="0.5" />
<polyline points="350.0,642.0 350.0,659.4" fill="none" stroke="#8a8a8a" stroke-width="0.5" />
<polyline points="412.5,679.0 462.5,666.0 517.5,738.8" fill="none" stroke="#8a8a8a" stroke-width="0.6" />
<polyline points="204.6,682.3 204.6,664.8" fill="none" stroke="#8a8a8a" stroke-width="0.6" />
<polyline points="235.8,675.0 235.8,657.5" fill="none" stroke="#8a8a8a" stroke-width="0.6" />
<polyline points="281.7,662.5 281.7,645.0" fill="none" stroke="#8a8a8a" stroke-width="0.6" />
<polyline points="301.5,657.9 301.5,640.4" fill="none" stroke="#8a8a8a" stroke-width="0.6" />
<polyline points="426.9,639.7 426.9,622.2" fill="none" stroke="#8a8a8a" stroke-width="0.6" />
<polyline points="451.2,669.7 451.2,652.2" fill="none" stroke="#8a8a8a" stroke-width="0.6" />
<polyline points="462.5,683.8 462.5,666.2" fill="none" stroke="#8a8a8a" stroke-width="0.6" />
<polyline points="497.5,730.0 497.5,712.5" fill="none" stroke="#8a8a8a" stroke-width="0.6" />
<polyline points="517.5,756.2 517.5,738.8" fill="none" stroke="#8a8a8a" stroke-width="0.6" />
<polyline points="204.6,665.0 231.7,700.5" fill="none" stroke="#8a8a8a" stroke-width="0.5" />
<polyline points="383.8,650.0 383.8,632.0" fill="none" stroke="#8a8a8a" stroke-width="0.5" />
<polygon points="204.6,682.3 235.8,675.0 261.9,709.4 231.7,717.7" fill="#fbc32c" stroke="#1f2a33" stroke-width="1.0" stroke-linejoin="round" />
<polygon points="235.8,675.0 281.7,662.5 298.3,685.4 253.5,697.9" fill="#5badd8" stroke="#1f2a33" stroke-width="1.0" stroke-linejoin="round" />
<polygon points="281.7,662.5 301.5,657.9 320.2,681.2 298.3,685.4" fill="#fbc32c" stroke="#1f2a33" stroke-width="1.0" stroke-linejoin="round" />
<polygon points="311.0,668.8 334.4,663.5 342.8,675.3 319.4,681.0" fill="#fbc32c" stroke="#1f2a33" stroke-width="1.0" stroke-linejoin="round" />
<polygon points="334.4,663.5 349.4,659.4 358.8,672.5 342.8,675.3" fill="#f9a6a6" stroke="#1f2a33" stroke-width="1.0" stroke-linejoin="round" />
<polygon points="383.8,650.0 426.9,639.7 436.2,651.9 388.4,663.0" fill="#c6c6c6" stroke="#1f2a33" stroke-width="1.0" stroke-linejoin="round" />
<polygon points="388.4,663.0 436.2,651.9 451.2,669.7 401.6,681.9" fill="#878787" stroke="#1f2a33" stroke-width="1.0" stroke-linejoin="round" />
<polyline points="401.6,681.9 401.6,670.0 448.0,658.0" fill="none" stroke="#555" stroke-width="0.5" />
<polygon points="402.0,683.0 431.0,676.0 436.0,682.0 408.0,689.0" fill="#e0e0e0" stroke="#999" stroke-width="0.5" stroke-linejoin="round" />
<polygon points="311.0,688.4 346.6,680.0 387.8,732.5 356.0,741.0" fill="#fbc32c" stroke="#1f2a33" stroke-width="1.0" stroke-linejoin="round" />
<polygon points="346.6,680.0 381.2,671.6 420.6,725.0 387.8,733.4" fill="#deeba2" stroke="#1f2a33" stroke-width="1.0" stroke-linejoin="round" />
<polygon points="412.5,696.2 462.5,683.8 481.2,708.8 432.5,721.2" fill="#fbbd8c" stroke="#1f2a33" stroke-width="1.0" stroke-linejoin="round" />
<polygon points="432.5,721.2 481.2,708.8 497.5,730.0 447.5,743.8" fill="#a6dbe7" stroke="#1f2a33" stroke-width="1.0" stroke-linejoin="round" />
<polyline points="427.0,714.0 475.0,701.5" fill="none" stroke="#9a7050" stroke-width="0.5" />
<polyline points="446.0,739.0 446.0,727.0 492.0,715.0" fill="none" stroke="#6a9aa5" stroke-width="0.5" />
<polygon points="471.2,738.8 497.5,731.0 517.5,756.2 483.8,763.0" fill="#fbc32c" stroke="#1f2a33" stroke-width="1.0" stroke-linejoin="round" />
<polygon points="438.8,751.2 453.8,747.5 468.8,768.8 441.2,775.0" fill="#fbc32c" stroke="#1f2a33" stroke-width="1.0" stroke-linejoin="round" />
<polygon points="453.8,747.5 462.5,745.0 476.2,762.5 468.8,767.5" fill="#d0d0d0" stroke="#999" stroke-width="0.5" stroke-linejoin="round" />
<path d="M415,733 Q420,728 428,729 Q434,731 432,738 Q430,744 421,745 Q413,744 414,738 Z" fill="#fbc32c" stroke="#1f2a33" stroke-width="0.8"/>
<polygon points="356.0,747.5 390.6,739.0 403.8,753.0 368.0,762.5" fill="#fbc32c" stroke="#1f2a33" stroke-width="1.0" stroke-linejoin="round" />
<polygon points="352.0,773.0 408.0,760.0 423.8,780.0 366.0,793.0" fill="#fbc32c" stroke="#1f2a33" stroke-width="1.0" stroke-linejoin="round" />
<polyline points="362.0,787.0 417.0,773.0" fill="none" stroke="#7a5a10" stroke-width="0.5" />
<polygon points="237.0,757.0 262.5,742.0 279.2,734.2 264.6,714.6 310.4,702.9 347.0,746.5 299.6,756.7 314.6,777.5 263.5,791.0" fill="#fa5556" stroke="#1f2a33" stroke-width="1.0" stroke-linejoin="round" />
<polyline points="299.6,756.7 299.6,739.0 339.0,730.0" fill="none" stroke="#9a2a2a" stroke-width="0.5" />
<polyline points="262.5,775.0 310.0,763.0" fill="none" stroke="#9a2a2a" stroke-width="0.5" />
<polyline points="244.8,719.2 262.5,742.0" fill="none" stroke="#1f2a33" stroke-width="0.6" />
<polygon points="244.8,719.2 264.6,714.6 279.2,734.2 262.5,742.0" fill="#fbc32c" stroke="#1f2a33" stroke-width="1.0" stroke-linejoin="round" />
<polygon points="299.6,756.7 348.0,746.0 360.4,767.0 314.6,777.5" fill="#deeba2" stroke="#1f2a33" stroke-width="1.0" stroke-linejoin="round" />
<polygon points="263.5,791.0 350.0,771.2 374.0,807.7 291.7,828.5" fill="#f9a6a6" stroke="#1f2a33" stroke-width="1.0" stroke-linejoin="round" />
<polyline points="291.7,812.0 366.0,794.0" fill="none" stroke="#a06060" stroke-width="0.5" />
<polyline points="263.5,791.0 263.5,775.0" fill="none" stroke="#a06060" stroke-width="0.5" />
<polygon points="301.9,842.3 386.5,821.9 406.9,848.1 323.8,870.0" fill="#abcdd2" stroke="#1f2a33" stroke-width="1.0" stroke-linejoin="round" />
<polyline points="311.0,838.0 311.0,855.0" fill="none" stroke="#5a7a80" stroke-width="0.5" />
<polyline points="311.0,855.0 395.0,834.0" fill="none" stroke="#5a7a80" stroke-width="0.5" />
<polygon points="331.0,829.0 366.0,820.0 370.0,825.0 335.0,834.0" fill="#d8d8d8" stroke="#888" stroke-width="0.5" stroke-linejoin="round" />
<polyline points="325.0,691.0 326.0,694.0 325.0,697.0" fill="none" stroke="#222" stroke-width="0.9" />
<polyline points="331.0,693.0 332.0,696.0 331.0,699.0" fill="none" stroke="#222" stroke-width="0.9" />
<polyline points="328.0,699.0 329.0,702.0 328.0,705.0" fill="none" stroke="#222" stroke-width="0.9" />
<polyline points="335.0,704.0 336.0,707.0 335.0,710.0" fill="none" stroke="#222" stroke-width="0.9" />
<polyline points="342.0,698.0 343.0,701.0 342.0,704.0" fill="none" stroke="#222" stroke-width="0.9" />
<polyline points="347.0,703.0 348.0,706.0 347.0,709.0" fill="none" stroke="#222" stroke-width="0.9" />
<polyline points="354.0,708.0 355.0,711.0 354.0,714.0" fill="none" stroke="#222" stroke-width="0.9" />
<polyline points="358.0,715.0 359.0,718.0 358.0,721.0" fill="none" stroke="#222" stroke-width="0.9" />
<polyline points="338.0,709.0 339.0,712.0 338.0,715.0" fill="none" stroke="#222" stroke-width="0.9" />
<polyline points="345.0,713.0 346.0,716.0 345.0,719.0" fill="none" stroke="#222" stroke-width="0.9" />
<polyline points="350.0,719.0 351.0,722.0 350.0,725.0" fill="none" stroke="#222" stroke-width="0.9" />
<polyline points="361.0,702.0 362.0,705.0 361.0,708.0" fill="none" stroke="#222" stroke-width="0.9" />
<polyline points="366.0,709.0 367.0,712.0 366.0,715.0" fill="none" stroke="#222" stroke-width="0.9" />
<polyline points="372.0,717.0 373.0,720.0 372.0,723.0" fill="none" stroke="#222" stroke-width="0.9" />
<polyline points="352.0,725.0 353.0,728.0 352.0,731.0" fill="none" stroke="#222" stroke-width="0.9" />
<polyline points="360.0,727.0 361.0,730.0 360.0,733.0" fill="none" stroke="#222" stroke-width="0.9" />
<polyline points="356.0,684.0 357.0,687.0 356.0,690.0" fill="none" stroke="#222" stroke-width="0.9" />
<polyline points="368.0,696.0 369.0,699.0 368.0,702.0" fill="none" stroke="#222" stroke-width="0.9" />
<circle cx="369.0" cy="663.0" r="18.8" fill="rgba(220,235,170,0.45)" stroke="#2c2c2c" stroke-width="1.0"/>
<polyline points="369.0,646.2 369.0,697.0" fill="none" stroke="#2c2c2c" stroke-width="1.0" />
<polyline points="359.6,660.2 369.0,668.6 378.4,660.2" fill="none" stroke="#2c2c2c" stroke-width="1.0" />
<polyline points="362.4,651.8 369.0,658.3 375.6,651.8" fill="none" stroke="#2c2c2c" stroke-width="1.0" />
<circle cx="387.8" cy="687.5" r="14.0" fill="rgba(220,235,170,0.45)" stroke="#2c2c2c" stroke-width="1.0"/>
<polyline points="387.8,675.5 387.8,712.0" fill="none" stroke="#2c2c2c" stroke-width="1.0" />
<polyline points="380.8,685.4 387.8,691.7 394.8,685.4" fill="none" stroke="#2c2c2c" stroke-width="1.0" />
<polyline points="382.9,679.1 387.8,684.0 392.7,679.1" fill="none" stroke="#2c2c2c" stroke-width="1.0" />
<circle cx="318.4" cy="746.6" r="11.6" fill="rgba(240,170,140,0.6)" stroke="#2c2c2c" stroke-width="1.0"/>
<polyline points="318.4,737.0 318.4,767.0" fill="none" stroke="#2c2c2c" stroke-width="1.0" />
<polyline points="312.6,744.9 318.4,750.1 324.2,744.9" fill="none" stroke="#2c2c2c" stroke-width="1.0" />
<polyline points="314.3,739.6 318.4,743.7 322.5,739.6" fill="none" stroke="#2c2c2c" stroke-width="1.0" />
<circle cx="340.0" cy="740.0" r="14.6" fill="rgba(220,235,170,0.45)" stroke="#2c2c2c" stroke-width="1.0"/>
<polyline points="340.0,727.4 340.0,764.0" fill="none" stroke="#2c2c2c" stroke-width="1.0" />
<polyline points="332.7,737.8 340.0,744.4 347.3,737.8" fill="none" stroke="#2c2c2c" stroke-width="1.0" />
<polyline points="334.9,731.2 340.0,736.4 345.1,731.2" fill="none" stroke="#2c2c2c" stroke-width="1.0" />
<circle cx="495.0" cy="793.8" r="19.2" fill="none" stroke="#2c2c2c" stroke-width="1.0"/>
<polyline points="495.0,776.5 495.0,826.0" fill="none" stroke="#2c2c2c" stroke-width="1.0" />
<polyline points="485.4,790.9 495.0,799.5 504.6,790.9" fill="none" stroke="#2c2c2c" stroke-width="1.0" />
<polyline points="488.3,782.2 495.0,788.9 501.7,782.2" fill="none" stroke="#2c2c2c" stroke-width="1.0" />
<circle cx="474.5" cy="807.0" r="12.5" fill="none" stroke="#2c2c2c" stroke-width="1.0"/>
<polyline points="474.5,796.5 474.5,828.0" fill="none" stroke="#2c2c2c" stroke-width="1.0" />
<polyline points="468.2,805.1 474.5,810.8 480.8,805.1" fill="none" stroke="#2c2c2c" stroke-width="1.0" />
<polyline points="470.1,799.5 474.5,803.9 478.9,799.5" fill="none" stroke="#2c2c2c" stroke-width="1.0" />
<polyline points="558.8,833.8 540.0,805.0 522.0,789.0 500.0,782.5 450.0,794.0 380.0,810.0 362.0,816.0" fill="none" stroke="#2f62c8" stroke-width="1.1" stroke-dasharray="2.5,2" />
<polygon points="360.0,816.5 366.0,813.0 365.5,818.0" fill="#2f62c8" stroke="none" stroke-width="1" stroke-linejoin="round" />
<polyline points="505.0,862.5 450.0,835.0 415.0,814.0 390.0,815.0 340.0,827.0 320.0,840.0" fill="none" stroke="#2f62c8" stroke-width="1.1" stroke-dasharray="2.5,2" />
<polygon points="507.0,864.0 500.0,862.0 503.0,858.0" fill="#2f62c8" stroke="none" stroke-width="1" stroke-linejoin="round" />
<path d="M566,838 L566.5,834.5 Q567,833 570,832.5 L572.5,829.5 Q574,828.5 578,828.5 Q581,828.5 583,830.5 L585,832.5 Q588,833 588.5,835 L588.5,838 Z" fill="#1f63d6"/>
<circle cx="570.5" cy="838.5" r="1.9" fill="#1f63d6" stroke="#fff" stroke-width="0.6"/>
<circle cx="584.0" cy="838.5" r="1.9" fill="#1f63d6" stroke="#fff" stroke-width="0.6"/>
<path d="M410,800 L412,795 L418,793 L422,789 L428,790 L432,796 L432,800 L426,803 L413,804 Z M418,793 L422,797 L432,797" fill="#fff" stroke="#333" stroke-width="0.6"/>
<circle cx="414.0" cy="803.0" r="1.6" fill="#fff" stroke="#333" stroke-width="0.6"/>
<circle cx="428.0" cy="802.0" r="1.6" fill="#fff" stroke="#333" stroke-width="0.6"/>
<path d="M205,773 L210,766 L226,760 L230,764 L230,772 L208,780 Z" fill="#fff" stroke="#333" stroke-width="0.6"/>
<polyline points="223.3,756.6 243.0,774.0 197.0,787.0 190.0,789.0" fill="none" stroke="#2f62c8" stroke-width="1.0" stroke-dasharray="2,1.5" />
<polyline points="58.3,786.8 154.6,791.0 223.3,756.6" fill="none" stroke="#2f62c8" stroke-width="1.0" stroke-dasharray="2,1.5" />
<path d="M58,771 L73,771 L73,784 L58,784 Z M73,775 L78,775 L81.5,780 L81.5,784 L73,784 Z" fill="#1f63d6"/>
<circle cx="62.0" cy="785.0" r="2.0" fill="#1f63d6" stroke="#fff" stroke-width="0.6"/>
<circle cx="77.0" cy="785.0" r="2.0" fill="#1f63d6" stroke="#fff" stroke-width="0.6"/>
<text x="160.0" y="783.0" font-size="9" fill="#3a78d4" text-anchor="start" textLength="63.0" lengthAdjust="spacingAndGlyphs" transform="rotate(-27.5 160 783)">accesso servizio</text>
<rect x="275" y="826" width="10.5" height="7" fill="#1f63d6"/>
<text x="277.5" y="832.0" font-size="6" fill="#fff" text-anchor="start">P</text>
<path d="M273,830 Q262,834 258,845 Q256,858 270,864 Q290,868 308,856 Q318,845 322,838" fill="none" stroke="#2f62c8" stroke-width="1.1" stroke-dasharray="2,1.6"/>
<text x="264.0" y="869.0" font-size="7" fill="#3a78d4" text-anchor="start" textLength="29.0" lengthAdjust="spacingAndGlyphs" transform="rotate(12 264 869)">al piano -1</text>
<text x="508.5" y="873.0" font-size="7" fill="#444" text-anchor="start" textLength="56.0" lengthAdjust="spacingAndGlyphs" transform="rotate(-37 508.5 873)">via campo sportivo</text>
<text x="173.3" y="612.5" font-size="7" fill="#444" text-anchor="start" textLength="75.0" lengthAdjust="spacingAndGlyphs">spazi comuni 1A-1B [1.3]</text>
<polyline points="173.5,613.5 249.4,613.5 249.4,669.0" fill="none" stroke="#999" stroke-width="0.6" stroke-dasharray="1.6,1.6" />
<text x="257.7" y="612.5" font-size="7" fill="#444" text-anchor="start" textLength="49.0" lengthAdjust="spacingAndGlyphs">deposito [2.1.10]</text>
<polyline points="257.5,613.5 326.5,613.5 326.5,665.0" fill="none" stroke="#999" stroke-width="0.6" stroke-dasharray="1.6,1.6" />
<text x="352.0" y="612.5" font-size="7" fill="#444" text-anchor="start" textLength="45.3" lengthAdjust="spacingAndGlyphs">farmacia [2.3.2]</text>
<polyline points="398.0,613.5 352.3,613.5 352.3,660.0" fill="none" stroke="#999" stroke-width="0.6" stroke-dasharray="1.6,1.6" />
<text x="172.9" y="631.7" font-size="7" fill="#444" text-anchor="start" textLength="51.5" lengthAdjust="spacingAndGlyphs">locale culto[2.1.6]</text>
<polyline points="173.5,633.5 226.4,633.5 226.4,681.0" fill="none" stroke="#999" stroke-width="0.6" stroke-dasharray="1.6,1.6" />
<text x="257.7" y="631.7" font-size="7" fill="#444" text-anchor="start" textLength="52.0" lengthAdjust="spacingAndGlyphs">servizi wc [2.1.11]</text>
<polyline points="257.5,633.5 309.0,633.5 309.0,668.0" fill="none" stroke="#999" stroke-width="0.6" stroke-dasharray="1.6,1.6" />
<text x="149.5" y="720.1" font-size="7" fill="#444" text-anchor="start" textLength="72.7" lengthAdjust="spacingAndGlyphs">camere mortuarie [2.1.7]</text>
<polyline points="149.5,721.0 262.0,721.0" fill="none" stroke="#888" stroke-width="0.6" stroke-dasharray="2,1.5" />
<text x="617.0" y="689.5" font-size="7" fill="#444" text-anchor="end" textLength="65.7" lengthAdjust="spacingAndGlyphs">salone multiuso [2.1.5]</text>
<polyline points="470.0,691.2 617.0,691.2" fill="none" stroke="#999" stroke-width="0.6" stroke-dasharray="2,1.5" />
<text x="617.0" y="703.8" font-size="7" fill="#444" text-anchor="end" textLength="108.1" lengthAdjust="spacingAndGlyphs">soggiorno [2.1.2] area internet [2.1.4]</text>
<polyline points="430.0,706.2 617.0,706.2" fill="none" stroke="#999" stroke-width="0.6" stroke-dasharray="2,1.5" />
<text x="617.0" y="718.8" font-size="7" fill="#444" text-anchor="end" textLength="63.1" lengthAdjust="spacingAndGlyphs">pasticceria bar [2.1.3]</text>
<polyline points="424.0,721.2 617.0,721.2" fill="none" stroke="#999" stroke-width="0.6" stroke-dasharray="2,1.5" />
<text x="613.0" y="733.2" font-size="7" fill="#444" text-anchor="end" textLength="75.6" lengthAdjust="spacingAndGlyphs">servizi comuni 2A-2B [1.6]</text>
<polyline points="458.0,735.0 617.0,735.0" fill="none" stroke="#999" stroke-width="0.6" stroke-dasharray="2,1.5" />
<text x="617.0" y="748.8" font-size="7" fill="#444" text-anchor="end" textLength="83.1" lengthAdjust="spacingAndGlyphs">parrucchiere/estetista [2.1.9]</text>
<polyline points="495.0,750.0 617.0,750.0" fill="none" stroke="#999" stroke-width="0.6" stroke-dasharray="2,1.5" />
<text x="617.0" y="763.2" font-size="7" fill="#444" text-anchor="end" textLength="52.0" lengthAdjust="spacingAndGlyphs">spazi commerciali</text>
<text x="617.0" y="771.2" font-size="7" fill="#444" text-anchor="end" textLength="70.8" lengthAdjust="spacingAndGlyphs">aperti al pubblico [2.1.8]</text>
<polyline points="447.0,765.0 545.0,765.0" fill="none" stroke="#999" stroke-width="0.6" stroke-dasharray="2,1.5" />
<path d="M509.7,897 L509.7,908.5 L525,897.2 L612.4,935.6 L612.4,919 L638.3,933.4 L587.5,978.5 L545,962 Q515,950 498,938 Q486,928 489,915 Q492,903 509.7,897 Z" fill="#deeba2" stroke="#7a8a40" stroke-width="0.6"/>
<polyline points="509.7,908.5 509.7,892.0" fill="none" stroke="#8a8a8a" stroke-width="0.6" />
<polyline points="525.0,897.2 525.0,880.7" fill="none" stroke="#8a8a8a" stroke-width="0.6" />
<polyline points="612.4,935.6 612.4,919.1" fill="none" stroke="#8a8a8a" stroke-width="0.6" />
<polyline points="509.7,892.0 525.0,880.7 612.4,919.1" fill="none" stroke="#8a8a8a" stroke-width="0.6" />
<polygon points="509.7,908.5 525.0,897.2 612.4,935.6 584.2,957.0 525.0,934.5" fill="#8d5f9b" stroke="#2a1f2e" stroke-width="1.1" stroke-linejoin="round" />
<polyline points="525.0,917.0 584.2,939.0 612.4,919.1" fill="none" stroke="#5a3a66" stroke-width="0.6" />
<polyline points="584.2,939.0 584.2,957.0" fill="none" stroke="#5a3a66" stroke-width="0.6" />
<circle cx="502.4" cy="919.1" r="10.2" fill="none" stroke="#333" stroke-width="0.8"/>
<polyline points="502.4,910.9 502.4,937.0" fill="none" stroke="#333" stroke-width="0.8" />
<polyline points="497.3,917.6 502.4,922.2 507.5,917.6" fill="none" stroke="#333" stroke-width="0.8" />
<polyline points="498.8,913.0 502.4,916.6 506.0,913.0" fill="none" stroke="#333" stroke-width="0.8" />
<text x="520.0" y="962.0" font-size="7" fill="#444" text-anchor="start" textLength="31.0" lengthAdjust="spacingAndGlyphs" transform="rotate(23 520 962)">via borgo</text>
<polygon points="265.5,972.6 401.9,938.0 417.0,957.6 463.7,945.8 472.2,958.5 510.1,1005.5 483.4,1012.5 502.5,1037.8 342.8,1080.0 362.4,1105.0 397.9,1095.3 404.0,1102.9 352.7,1117.0 344.7,1110.3 317.3,1117.0 276.7,1066.0 327.3,1053.3" fill="#e6e6e6" stroke="#1f2a33" stroke-width="1.0" stroke-linejoin="round" />
<polyline points="355.5,1018.0 373.7,1040.6" fill="none" stroke="#7a7a7a" stroke-width="0.5" />
<polyline points="367.0,1015.0 385.2,1037.6" fill="none" stroke="#7a7a7a" stroke-width="0.5" />
<polyline points="378.5,1011.9 396.7,1034.5" fill="none" stroke="#7a7a7a" stroke-width="0.5" />
<polyline points="389.9,1008.9 408.1,1031.5" fill="none" stroke="#7a7a7a" stroke-width="0.5" />
<polyline points="401.4,1005.9 419.6,1028.5" fill="none" stroke="#7a7a7a" stroke-width="0.5" />
<polyline points="412.9,1002.8 431.1,1025.4" fill="none" stroke="#7a7a7a" stroke-width="0.5" />
<polyline points="424.4,999.8 442.6,1022.4" fill="none" stroke="#7a7a7a" stroke-width="0.5" />
<polyline points="355.5,1018.0 424.4,999.8" fill="none" stroke="#7a7a7a" stroke-width="0.5" />
<polyline points="364.6,1029.3 433.5,1011.1" fill="none" stroke="#7a7a7a" stroke-width="0.5" />
<polyline points="373.7,1040.6 442.6,1022.4" fill="none" stroke="#7a7a7a" stroke-width="0.5" />
<polyline points="271.0,980.0 324.0,1050.0" fill="none" stroke="#7a7a7a" stroke-width="0.5" />
<polyline points="292.0,974.6 345.0,1044.6" fill="none" stroke="#7a7a7a" stroke-width="0.5" />
<polyline points="271.0,980.0 292.0,974.6" fill="none" stroke="#7a7a7a" stroke-width="0.5" />
<polyline points="275.4,985.8 296.4,980.4" fill="none" stroke="#7a7a7a" stroke-width="0.5" />
<polyline points="279.8,991.7 300.8,986.3" fill="none" stroke="#7a7a7a" stroke-width="0.5" />
<polyline points="284.2,997.5 305.2,992.1" fill="none" stroke="#7a7a7a" stroke-width="0.5" />
<polyline points="288.7,1003.3 309.7,997.9" fill="none" stroke="#7a7a7a" stroke-width="0.5" />
<polyline points="293.1,1009.2 314.1,1003.8" fill="none" stroke="#7a7a7a" stroke-width="0.5" />
<polyline points="297.5,1015.0 318.5,1009.6" fill="none" stroke="#7a7a7a" stroke-width="0.5" />
<polyline points="301.9,1020.8 322.9,1015.4" fill="none" stroke="#7a7a7a" stroke-width="0.5" />
<polyline points="306.3,1026.7 327.3,1021.3" fill="none" stroke="#7a7a7a" stroke-width="0.5" />
<polyline points="310.8,1032.5 331.8,1027.1" fill="none" stroke="#7a7a7a" stroke-width="0.5" />
<polyline points="315.2,1038.3 336.2,1032.9" fill="none" stroke="#7a7a7a" stroke-width="0.5" />
<polyline points="319.6,1044.2 340.6,1038.8" fill="none" stroke="#7a7a7a" stroke-width="0.5" />
<polyline points="324.0,1050.0 345.0,1044.6" fill="none" stroke="#7a7a7a" stroke-width="0.5" />
<polyline points="334.4,1068.7 342.8,1080.0" fill="none" stroke="#7a7a7a" stroke-width="0.5" />
<polyline points="346.8,1065.6 355.2,1076.9" fill="none" stroke="#7a7a7a" stroke-width="0.5" />
<polyline points="359.2,1062.4 367.6,1073.7" fill="none" stroke="#7a7a7a" stroke-width="0.5" />
<polyline points="371.6,1059.3 380.1,1070.6" fill="none" stroke="#7a7a7a" stroke-width="0.5" />
<polyline points="384.1,1056.1 392.5,1067.4" fill="none" stroke="#7a7a7a" stroke-width="0.5" />
<polyline points="396.5,1053.0 404.9,1064.3" fill="none" stroke="#7a7a7a" stroke-width="0.5" />
<polyline points="408.9,1049.8 417.3,1061.1" fill="none" stroke="#7a7a7a" stroke-width="0.5" />
<polyline points="421.3,1046.7 429.7,1058.0" fill="none" stroke="#7a7a7a" stroke-width="0.5" />
<polyline points="433.7,1043.6 442.1,1054.9" fill="none" stroke="#7a7a7a" stroke-width="0.5" />
<polyline points="446.1,1040.4 454.6,1051.7" fill="none" stroke="#7a7a7a" stroke-width="0.5" />
<polyline points="458.6,1037.3 467.0,1048.6" fill="none" stroke="#7a7a7a" stroke-width="0.5" />
<polyline points="471.0,1034.1 479.4,1045.4" fill="none" stroke="#7a7a7a" stroke-width="0.5" />
<polyline points="483.4,1031.0 491.8,1042.3" fill="none" stroke="#7a7a7a" stroke-width="0.5" />
<polyline points="334.4,1068.7 483.4,1031.0" fill="none" stroke="#7a7a7a" stroke-width="0.5" />
<polyline points="342.8,1080.0 491.8,1042.3" fill="none" stroke="#7a7a7a" stroke-width="0.5" />
<polyline points="365.3,984.4 373.0,996.0" fill="none" stroke="#7a7a7a" stroke-width="0.5" />
<polyline points="375.6,981.8 383.3,993.4" fill="none" stroke="#7a7a7a" stroke-width="0.5" />
<polyline points="385.9,979.1 393.6,990.7" fill="none" stroke="#7a7a7a" stroke-width="0.5" />
<polyline points="396.1,976.5 403.8,988.1" fill="none" stroke="#7a7a7a" stroke-width="0.5" />
<polyline points="406.4,973.8 414.1,985.4" fill="none" stroke="#7a7a7a" stroke-width="0.5" />
<polyline points="416.7,971.1 424.4,982.8" fill="none" stroke="#7a7a7a" stroke-width="0.5" />
<polyline points="427.0,968.5 434.7,980.1" fill="none" stroke="#7a7a7a" stroke-width="0.5" />
<polyline points="365.3,984.4 427.0,968.5" fill="none" stroke="#7a7a7a" stroke-width="0.5" />
<polyline points="373.0,996.0 434.7,980.1" fill="none" stroke="#7a7a7a" stroke-width="0.5" />
<polygon points="275.0,975.5 300.0,969.5 302.0,972.0 277.0,978.0" fill="#d5d5d5" stroke="#888" stroke-width="0.5" stroke-linejoin="round" />
<polygon points="434.0,961.0 458.0,955.0 462.0,960.0 438.0,966.0" fill="#d5d5d5" stroke="#888" stroke-width="0.5" stroke-linejoin="round" />
<polygon points="467.0,1020.0 479.0,1017.0 489.0,1031.0 477.0,1034.0" fill="#d5d5d5" stroke="#888" stroke-width="0.5" stroke-linejoin="round" />
<polygon points="362.4,1105.0 397.9,1095.3 404.0,1102.9 367.0,1110.0" fill="#d8d8d8" stroke="#888" stroke-width="0.5" stroke-linejoin="round" />
<polyline points="308.4,1059.8 344.7,1110.3" fill="none" stroke="#999" stroke-width="0.5" />
<polygon points="340.0,953.4 401.9,938.0 425.8,968.9 365.3,984.4" fill="#949494" stroke="#1f2a33" stroke-width="1.0" stroke-linejoin="round" />
<polyline points="340.0,953.4 340.0,935.4 401.9,920.0 425.8,950.9 425.8,968.9" fill="none" stroke="#8a8a8a" stroke-width="0.6" />
<polyline points="401.9,920.0 401.9,938.0" fill="none" stroke="#8a8a8a" stroke-width="0.6" />
<polyline points="340.0,935.4 365.3,966.4 425.8,950.9" fill="none" stroke="#666" stroke-width="0.5" />
<polyline points="365.3,966.4 365.3,984.4" fill="none" stroke="#666" stroke-width="0.5" />
<polygon points="448.3,964.7 472.2,958.5 510.1,1005.5 483.4,1012.5" fill="#949494" stroke="#1f2a33" stroke-width="1.0" stroke-linejoin="round" />
<polyline points="448.3,964.7 448.3,948.0 472.2,941.5 510.1,988.5 510.1,1005.5" fill="none" stroke="#8a8a8a" stroke-width="0.6" />
<polyline points="472.2,941.5 472.2,958.5" fill="none" stroke="#8a8a8a" stroke-width="0.6" />
<polyline points="448.3,948.0 483.4,995.5 510.1,988.5" fill="none" stroke="#666" stroke-width="0.5" />
<polyline points="483.4,995.5 483.4,1012.5" fill="none" stroke="#666" stroke-width="0.5" />
<path d="M316,999 L318,994 L324,991 L330,992 L337,999 L338,1004 L333,1007 L321,1004 Z M322,992 L326,998 L336,1000" fill="#fff" stroke="#333" stroke-width="0.6"/>
<circle cx="320.0" cy="1004.0" r="1.6" fill="#fff" stroke="#333" stroke-width="0.6"/>
<circle cx="333.0" cy="1006.0" r="1.6" fill="#fff" stroke="#333" stroke-width="0.6"/>
<rect x="342.8" y="1049" width="9.8" height="7" fill="#1f63d6"/>
<text x="345.3" y="1055.0" font-size="6" fill="#fff" text-anchor="start">P</text>
<path d="M315.5,1063.4 Q302,1066 301,1080 Q303,1096 320,1099.5 Q345,1100 355,1085 Q364,1072 370,1062" fill="none" stroke="#2f62c8" stroke-width="1.2" stroke-dasharray="2,1.6"/>
<path d="M318,1074 Q310,1082 318,1092 Q325,1098 335,1099" fill="none" stroke="#aaa" stroke-width="0.5"/>
<text x="345.0" y="1098.0" font-size="7" fill="#3a78d4" text-anchor="start" textLength="34.0" lengthAdjust="spacingAndGlyphs" transform="rotate(-50 345 1098)">al piano terra</text>
<polyline points="509.2,1090.8 509.2,1074.2" fill="none" stroke="#8a8a8a" stroke-width="0.6" />
<polyline points="524.7,1080.0 524.7,1063.4" fill="none" stroke="#8a8a8a" stroke-width="0.6" />
<polyline points="613.3,1118.7 613.3,1102.1" fill="none" stroke="#8a8a8a" stroke-width="0.6" />
<polyline points="509.2,1074.2 524.7,1063.4 613.3,1102.1" fill="none" stroke="#8a8a8a" stroke-width="0.6" />
<polygon points="509.2,1090.8 524.7,1080.0 613.3,1118.7 584.2,1140.0 524.7,1117.0" fill="#a691af" stroke="#2a1f2e" stroke-width="1.1" stroke-linejoin="round" />
<polyline points="524.7,1100.0 584.2,1122.0 613.3,1102.1" fill="none" stroke="#6a5a70" stroke-width="0.6" />
<polyline points="584.2,1122.0 584.2,1140.0" fill="none" stroke="#6a5a70" stroke-width="0.6" />
<g fill="none" stroke="#3a78d4" stroke-width="1.0"><rect x="57.7" y="537.5" width="15.6" height="10.8"/><path d="M73.3,541 L78.5,541 L81.7,545 L81.7,548.3 L73.3,548.3"/><circle cx="62.9" cy="550" r="1.8" fill="#fff"/><circle cx="77.5" cy="550" r="1.8" fill="#fff"/></g>
<g fill="none" stroke="#2a8f7f" stroke-width="1.1"><circle cx="63.5" cy="562.5" r="1.2" fill="#2a8f7f"/><path d="M63.5,564.0 L63.5,568.0 L61.7,571.0 M63.5,568.0 L65.3,571.0 M61.7,566.0 L65.3,565.0"/></g>
<g fill="none" stroke="#2a8f7f" stroke-width="0.9"><circle cx="71.3" cy="568.5" r="2.6"/><circle cx="77.7" cy="568.5" r="2.6"/><path d="M71.3,568.5 L74.0,565.0 L77.0,565.0 L77.7,568.5 M74.0,565.0 L74.5,568.5"/></g>
<g fill="none" stroke="#2a8f7f" stroke-width="0.9"><circle cx="490.8" cy="607" r="2.6"/><circle cx="497.2" cy="607" r="2.6"/><path d="M490.8,607 L493.5,603.5 L496.5,603.5 L497.2,607 M493.5,603.5 L494,607"/></g>
<g fill="none" stroke="#2a8f7f" stroke-width="1.1"><circle cx="505" cy="601.0" r="1.2" fill="#2a8f7f"/><path d="M505,602.5 L505,606.5 L503.2,609.5 M505,606.5 L506.8,609.5 M503.2,604.5 L506.8,603.5"/></g>
<g fill="#111"><circle cx="97.6" cy="540.8" r="1.1"/><path d="M96.4,542 L98.6,542 L98.4,545.5 L99.4,548.5 L98.3,548.5 L97.4,546 L96.2,548.5 L95.2,548.5 L96.6,545.3 Z"/></g>
<g fill="#111"><circle cx="162.6" cy="507.8" r="1.1"/><path d="M161.4,509 L163.6,509 L163.4,512.5 L164.4,515.5 L163.3,515.5 L162.4,513 L161.2,515.5 L160.2,515.5 L161.6,512.3 Z"/></g>
<g fill="#111"><circle cx="240.6" cy="482.8" r="1.1"/><path d="M239.4,484 L241.6,484 L241.4,487.5 L242.4,490.5 L241.3,490.5 L240.4,488 L239.2,490.5 L238.2,490.5 L239.6,487.3 Z"/></g>
<g fill="#111"><circle cx="338.6" cy="379.8" r="1.1"/><path d="M337.4,381 L339.6,381 L339.4,384.5 L340.4,387.5 L339.3,387.5 L338.4,385 L337.2,387.5 L336.2,387.5 L337.6,384.3 Z"/></g>
<g fill="#111"><circle cx="314.6" cy="453.8" r="1.1"/><path d="M313.4,455 L315.6,455 L315.4,458.5 L316.4,461.5 L315.3,461.5 L314.4,459 L313.2,461.5 L312.2,461.5 L313.6,458.3 Z"/></g>
<g fill="#111"><circle cx="327.6" cy="450.8" r="1.1"/><path d="M326.4,452 L328.6,452 L328.4,455.5 L329.4,458.5 L328.3,458.5 L327.4,456 L326.2,458.5 L325.2,458.5 L326.6,455.3 Z"/></g>
<g fill="#111"><circle cx="352.6" cy="446.8" r="1.1"/><path d="M351.4,448 L353.6,448 L353.4,451.5 L354.4,454.5 L353.3,454.5 L352.4,452 L351.2,454.5 L350.2,454.5 L351.6,451.3 Z"/></g>
<g fill="#111"><circle cx="293.6" cy="465.8" r="1.1"/><path d="M292.4,467 L294.6,467 L294.4,470.5 L295.4,473.5 L294.3,473.5 L293.4,471 L292.2,473.5 L291.2,473.5 L292.6,470.3 Z"/></g>
<g fill="#111"><circle cx="361.6" cy="472.8" r="1.1"/><path d="M360.4,474 L362.6,474 L362.4,477.5 L363.4,480.5 L362.3,480.5 L361.4,478 L360.2,480.5 L359.2,480.5 L360.6,477.3 Z"/></g>
<g fill="#111"><circle cx="420.6" cy="565.8" r="1.1"/><path d="M419.4,567 L421.6,567 L421.4,570.5 L422.4,573.5 L421.3,573.5 L420.4,571 L419.2,573.5 L418.2,573.5 L419.6,570.3 Z"/></g>
<polygon points="263.0,694.0 290.0,687.0 293.0,692.0 266.0,698.0" fill="#d6d6d6" stroke="#999" stroke-width="0.5" stroke-linejoin="round" />
<polyline points="257.0,703.0 257.0,690.0 270.0,687.0" fill="none" stroke="#8a8a8a" stroke-width="0.5" />
<polyline points="231.7,717.7 231.7,700.5" fill="none" stroke="#8a8a8a" stroke-width="0.5" />
<polyline points="216.9,679.3 232.2,696.8 232.2,717.0" fill="none" stroke="#444" stroke-width="0.5" />
<polyline points="232.2,696.8 252.0,691.5" fill="none" stroke="#444" stroke-width="0.5" />
<polyline points="253.3,682.0 253.3,698.0" fill="none" stroke="#444" stroke-width="0.5" />
<polyline points="253.3,682.0 292.0,671.5" fill="none" stroke="#444" stroke-width="0.5" />
<polyline points="299.2,661.5 299.2,685.0" fill="none" stroke="#444" stroke-width="0.5" />
<polyline points="287.0,668.0 311.0,662.0" fill="none" stroke="#444" stroke-width="0.5" />
<polyline points="243.5,703.0 243.5,716.0" fill="none" stroke="#444" stroke-width="0.5" />
<polyline points="243.5,703.0 252.0,701.0" fill="none" stroke="#444" stroke-width="0.5" />
<polyline points="254.0,720.0 268.0,738.0" fill="none" stroke="#444" stroke-width="0.5" />
<polyline points="250.0,726.0 272.0,721.0" fill="none" stroke="#444" stroke-width="0.5" />
<polyline points="320.0,681.0 320.0,666.0" fill="none" stroke="#444" stroke-width="0.5" />
<polyline points="313.0,693.0 348.0,684.0" fill="none" stroke="#444" stroke-width="0.5" />
<polyline points="362.0,725.0 395.0,717.0" fill="none" stroke="#444" stroke-width="0.5" />
<polyline points="422.0,700.0 470.0,688.0" fill="none" stroke="#444" stroke-width="0.5" />
<polyline points="478.0,743.0 506.0,736.0" fill="none" stroke="#444" stroke-width="0.5" />
<polyline points="477.0,748.0 477.0,763.0" fill="none" stroke="#444" stroke-width="0.5" />
<circle cx="226.2" cy="682.5" r="0.9" fill="#111" stroke="none" stroke-width="0"/>
<circle cx="249.2" cy="680.0" r="0.9" fill="#111" stroke="none" stroke-width="0"/>
<circle cx="309.0" cy="671.2" r="0.9" fill="#111" stroke="none" stroke-width="0"/>
<circle cx="327.0" cy="671.2" r="0.9" fill="#111" stroke="none" stroke-width="0"/>
<circle cx="264.6" cy="729.7" r="0.9" fill="#111" stroke="none" stroke-width="0"/>
<circle cx="382.8" cy="750.3" r="0.9" fill="#111" stroke="none" stroke-width="0"/>
<circle cx="401.9" cy="775.6" r="0.9" fill="#111" stroke="none" stroke-width="0"/>
<circle cx="496.2" cy="755.0" r="0.9" fill="#111" stroke="none" stroke-width="0"/>
<circle cx="447.0" cy="768.8" r="0.9" fill="#111" stroke="none" stroke-width="0"/>
<circle cx="461.2" cy="734.5" r="0.9" fill="#111" stroke="none" stroke-width="0"/>
<circle cx="420.0" cy="735.0" r="0.9" fill="#111" stroke="none" stroke-width="0"/>
</svg></body></html>
